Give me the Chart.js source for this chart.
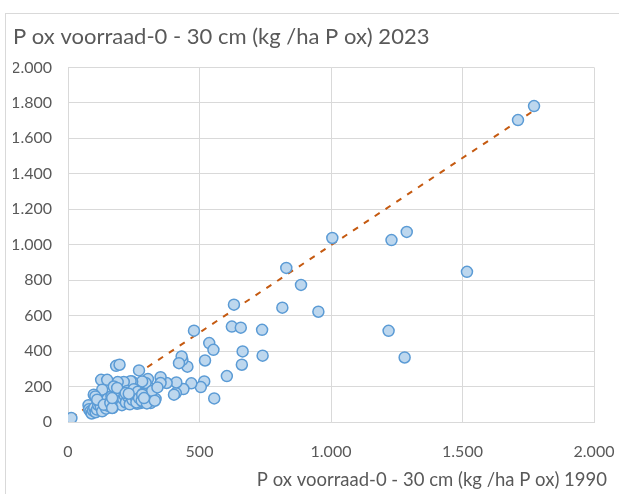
<!DOCTYPE html>
<html>
<head>
<meta charset="utf-8">
<script src="https://cdn.jsdelivr.net/npm/chart.js@4/dist/chart.umd.min.js"></script>
<style>
  html, body { margin: 0; padding: 0; background: #fff; }
  #wrap { width: 619px; height: 494px; position: relative; }
</style>
</head>
<body>
<div id="wrap"><canvas id="chart" width="619" height="494"></canvas></div>
<script>
const chartTitle = 'P ox voorraad-0 - 30 cm (kg /ha P ox) 2023';
const xAxisTitle = 'P ox voorraad-0 - 30 cm (kg /ha P ox) 1990';

// P ox 1990 (x) and 2023 (y)
const pox1990 = [
  1772, 1711, 1005, 1230, 1288, 1517, 830, 886, 815, 952, 1219, 1280,
  631, 623, 657, 738, 479, 664, 740, 661, 604, 556, 537, 553, 521, 518,
  505, 469, 439, 454, 435, 432, 422, 410, 403,
  412, 375, 352, 352, 333, 314, 308, 304, 295, 282, 276, 263, 270, 244,
  238, 244, 238, 212, 189, 183, 196, 126, 149, 130,
  13, 78, 80, 85, 90, 95, 100, 105, 110, 115, 120, 125, 130, 135, 140,
  145, 150, 155, 160, 165, 170, 175, 180, 185, 190, 195, 200, 205, 210,
  215, 220, 225, 230, 235, 240, 245, 250, 255, 260, 265, 270, 280, 285,
  290, 300, 310, 320, 330, 340, 98, 104, 111, 136, 161, 168, 168, 174,
  187, 219, 231, 282, 289
];
const pox2023 = [
  1782, 1703, 1038, 1026, 1072, 847, 869, 773, 645, 622, 514, 364,
  662, 538, 532, 520, 515, 398, 374, 323, 259, 133, 445, 407, 347, 229,
  197, 218, 186, 312, 351, 370, 332, 163, 154,
  223, 220, 253, 220, 130, 107, 192, 242, 220, 229, 107, 103, 291, 135,
  154, 228, 230, 226, 225, 317, 323, 238, 238, 182,
  22, 95, 72, 60, 48, 65, 80, 55, 70, 95, 110, 85, 60, 120, 100,
  75, 130, 90, 110, 145, 80, 125, 160, 100, 140, 115, 170, 95, 130,
  150, 110, 175, 140, 100, 165, 125, 185, 145, 110, 170, 135, 120, 160,
  145, 105, 150, 175, 120, 195, 154, 144, 126, 97, 107, 79, 135, 200,
  192, 163, 160, 154, 135
];

// linear trendline end points
const trendX = [13, 1773];
const trendY = [25, 1758];

const yTicks = [0, 200, 400, 600, 800, 1000, 1200, 1400, 1600, 1800, 2000];
const xTicks = [0, 500, 1000, 1500, 2000];

function fmt(v) {
  return String(v).replace(/\B(?=(\d{3})+(?!\d))/g, '.');
}

const grid = '#d9d9d9';
const txt = '#595959';
const fam = 'Lato, "Open Sans", sans-serif';

// white page, the light chart frame, and the x axis title at the far right
const frame = {
  id: 'frame',
  beforeDraw(chart) {
    const c = chart.ctx;
    c.save();
    c.fillStyle = '#fff';
    c.fillRect(0, 0, chart.width, chart.height);
    c.strokeStyle = grid;
    c.lineWidth = 1;
    c.strokeRect(5.5, 13.5, 700, 600);
    c.restore();
  },
  afterDraw(chart) {
    const c = chart.ctx;
    c.save();
    c.fillStyle = txt;
    c.font = '18.5px ' + fam;
    c.textAlign = 'right';
    c.textBaseline = 'middle';
    c.fillText(xAxisTitle, 607, 480);
    c.restore();
  }
};

new Chart(document.getElementById('chart'), {
  type: 'scatter',
  data: {
    datasets: [{
      label: '2023',
      data: pox1990.map((x, i) => ({x: x, y: pox2023[i]})),
      backgroundColor: '#bdd7ee',
      borderColor: '#5b9bd5',
      borderWidth: 1.5,
      pointRadius: 5.5,
      order: 0
    }, {
      label: 'trend',
      type: 'line',
      data: trendX.map((x, i) => ({x: x, y: trendY[i]})),
      borderColor: '#c55a11',
      borderWidth: 2,
      borderDash: [6, 7],
      pointRadius: 0,
      fill: false,
      order: 1
    }]
  },
  options: {
    responsive: false,
    animation: false,
    layout: {padding: {left: 13, right: 0, top: 24, bottom: 0}},
    plugins: {
      legend: {display: false},
      tooltip: {enabled: false},
      title: {
        display: true,
        text: chartTitle,
        align: 'start',
        color: txt,
        font: {family: fam, size: 22, weight: 'normal'},
        padding: {top: 0, bottom: 17}
      }
    },
    scales: {
      x: {
        type: 'linear',
        min: 0, max: 2000,
        afterBuildTicks: s => { s.ticks = xTicks.map(v => ({value: v})); },
        afterFit: s => { s.height = 494 - 422; s.paddingLeft = 0; s.paddingRight = 25; },
        grid: {color: grid, drawTicks: false},
        border: {color: grid},
        ticks: {color: txt, font: {family: fam, size: 16}, padding: 20, callback: fmt, maxRotation: 0}
      },
      y: {
        type: 'linear',
        min: 0, max: 2000,
        afterBuildTicks: s => { s.ticks = yTicks.map(v => ({value: v})); },
        afterFit: s => { s.width = 55; },
        grid: {color: grid, drawTicks: false},
        border: {color: grid},
        ticks: {color: txt, font: {family: fam, size: 16}, padding: 16, callback: fmt}
      }
    }
  },
  plugins: [frame]
});
</script>
</body>
</html>
